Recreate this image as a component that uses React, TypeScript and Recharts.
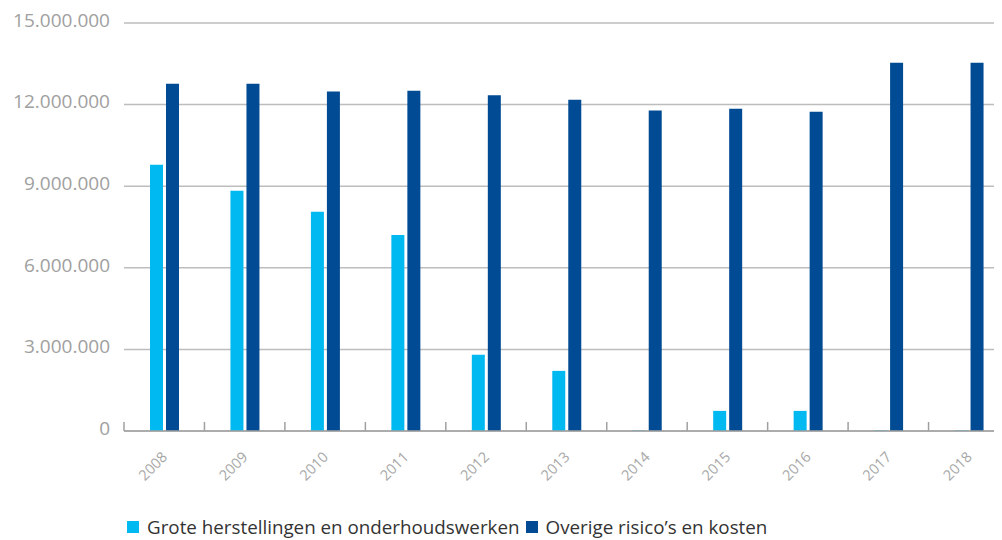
import React from 'react';
import { BarChart, Bar, XAxis, YAxis, CartesianGrid, Legend } from 'recharts';

const years = ['2008', '2009', '2010', '2011', '2012', '2013', '2014', '2015', '2016', '2017', '2018'];
const grote = [9790000, 8830000, 8060000, 7210000, 2800000, 2210000, 20000, 740000, 740000, 20000, 20000];
const overige = [12770000, 12770000, 12480000, 12510000, 12340000, 12180000, 11780000, 11850000, 11740000, 13540000, 13540000];
const yTicks = [0, 3000000, 6000000, 9000000, 12000000, 15000000];

const seriesNames = {
  grote: 'Grote herstellingen en onderhoudswerken',
  overige: 'Overige risico\u2019s en kosten',
};

const LIGHT = '#00b9f1';
const DARK = '#004b93';
const FONT = '"Open Sans", sans-serif';

const data = years.map((y, i) => ({ year: y, grote: grote[i], overige: overige[i] }));

const fmt = (v: number) => String(v).replace(/\B(?=(\d{3})+(?!\d))/g, '.');

const YearTick = (props: any) => {
  const { x, y, payload, width, visibleTicksCount } = props;
  const half =
    payload && typeof payload.offset === 'number' && payload.offset > 0
      ? payload.offset
      : width / (visibleTicksCount || 11) / 2;
  return (
    <g>
      <line x1={x - half} x2={x - half} y1={y} y2={y - 9} stroke="#a0a0a0" strokeWidth={1.5} />
      <g transform={`translate(${x + 4},${y + 27}) rotate(-45)`}>
        <text x={0} y={0} textAnchor="end" fill="#a7a7a7" fontSize={14.5} fontFamily={FONT}>
          {payload.value}
        </text>
      </g>
    </g>
  );
};

const renderLegend = (props: any) => {
  const { payload } = props;
  return (
    <div style={{ display: 'flex', alignItems: 'center', height: 30, fontFamily: FONT, fontSize: 18.8, color: '#333', whiteSpace: 'nowrap' }}>
      {payload.map((p: any, i: number) => (
        <div key={i} style={{ display: 'flex', alignItems: 'center', marginRight: 6 }}>
          <span style={{ display: 'inline-block', width: 12, height: 12, background: p.color, marginRight: 8 }} />
          <span>{p.value}</span>
        </div>
      ))}
    </div>
  );
};

export default function App() {
  return (
    <div style={{ width: 994, height: 532, overflow: 'hidden', position: 'relative' }}>
      <BarChart
        width={1001}
        height={532}
        data={data}
        margin={{ top: 15, right: 0, bottom: 19, left: 0 }}
        barSize={13}
        barGap={3}
      >
        <CartesianGrid horizontal vertical={false} stroke="#bdbdbd" strokeWidth={1.5} />
        <XAxis
          dataKey="year"
          axisLine={{ stroke: '#a0a0a0', strokeWidth: 1.5 }}
          tickLine={false}
          tickSize={0}
          tickMargin={0}
          height={60}
          interval={0}
          tick={<YearTick />}
        />
        <YAxis
          width={116}
          domain={[0, 15000000]}
          ticks={yTicks}
          tickFormatter={fmt}
          axisLine={false}
          tickLine={false}
          tickSize={0}
          tickMargin={14}
          tick={{ fill: '#a0a0a0', fontSize: 19, fontFamily: FONT, dy: -3 }}
          interval={0}
        />
        <Legend
          content={renderLegend}
          wrapperStyle={{ position: 'absolute', top: 504, left: 119, width: 'auto' }}
        />
        <Bar dataKey="grote" name={seriesNames.grote} fill={LIGHT} isAnimationActive={false} />
        <Bar dataKey="overige" name={seriesNames.overige} fill={DARK} isAnimationActive={false} />
      </BarChart>
    </div>
  );
}
